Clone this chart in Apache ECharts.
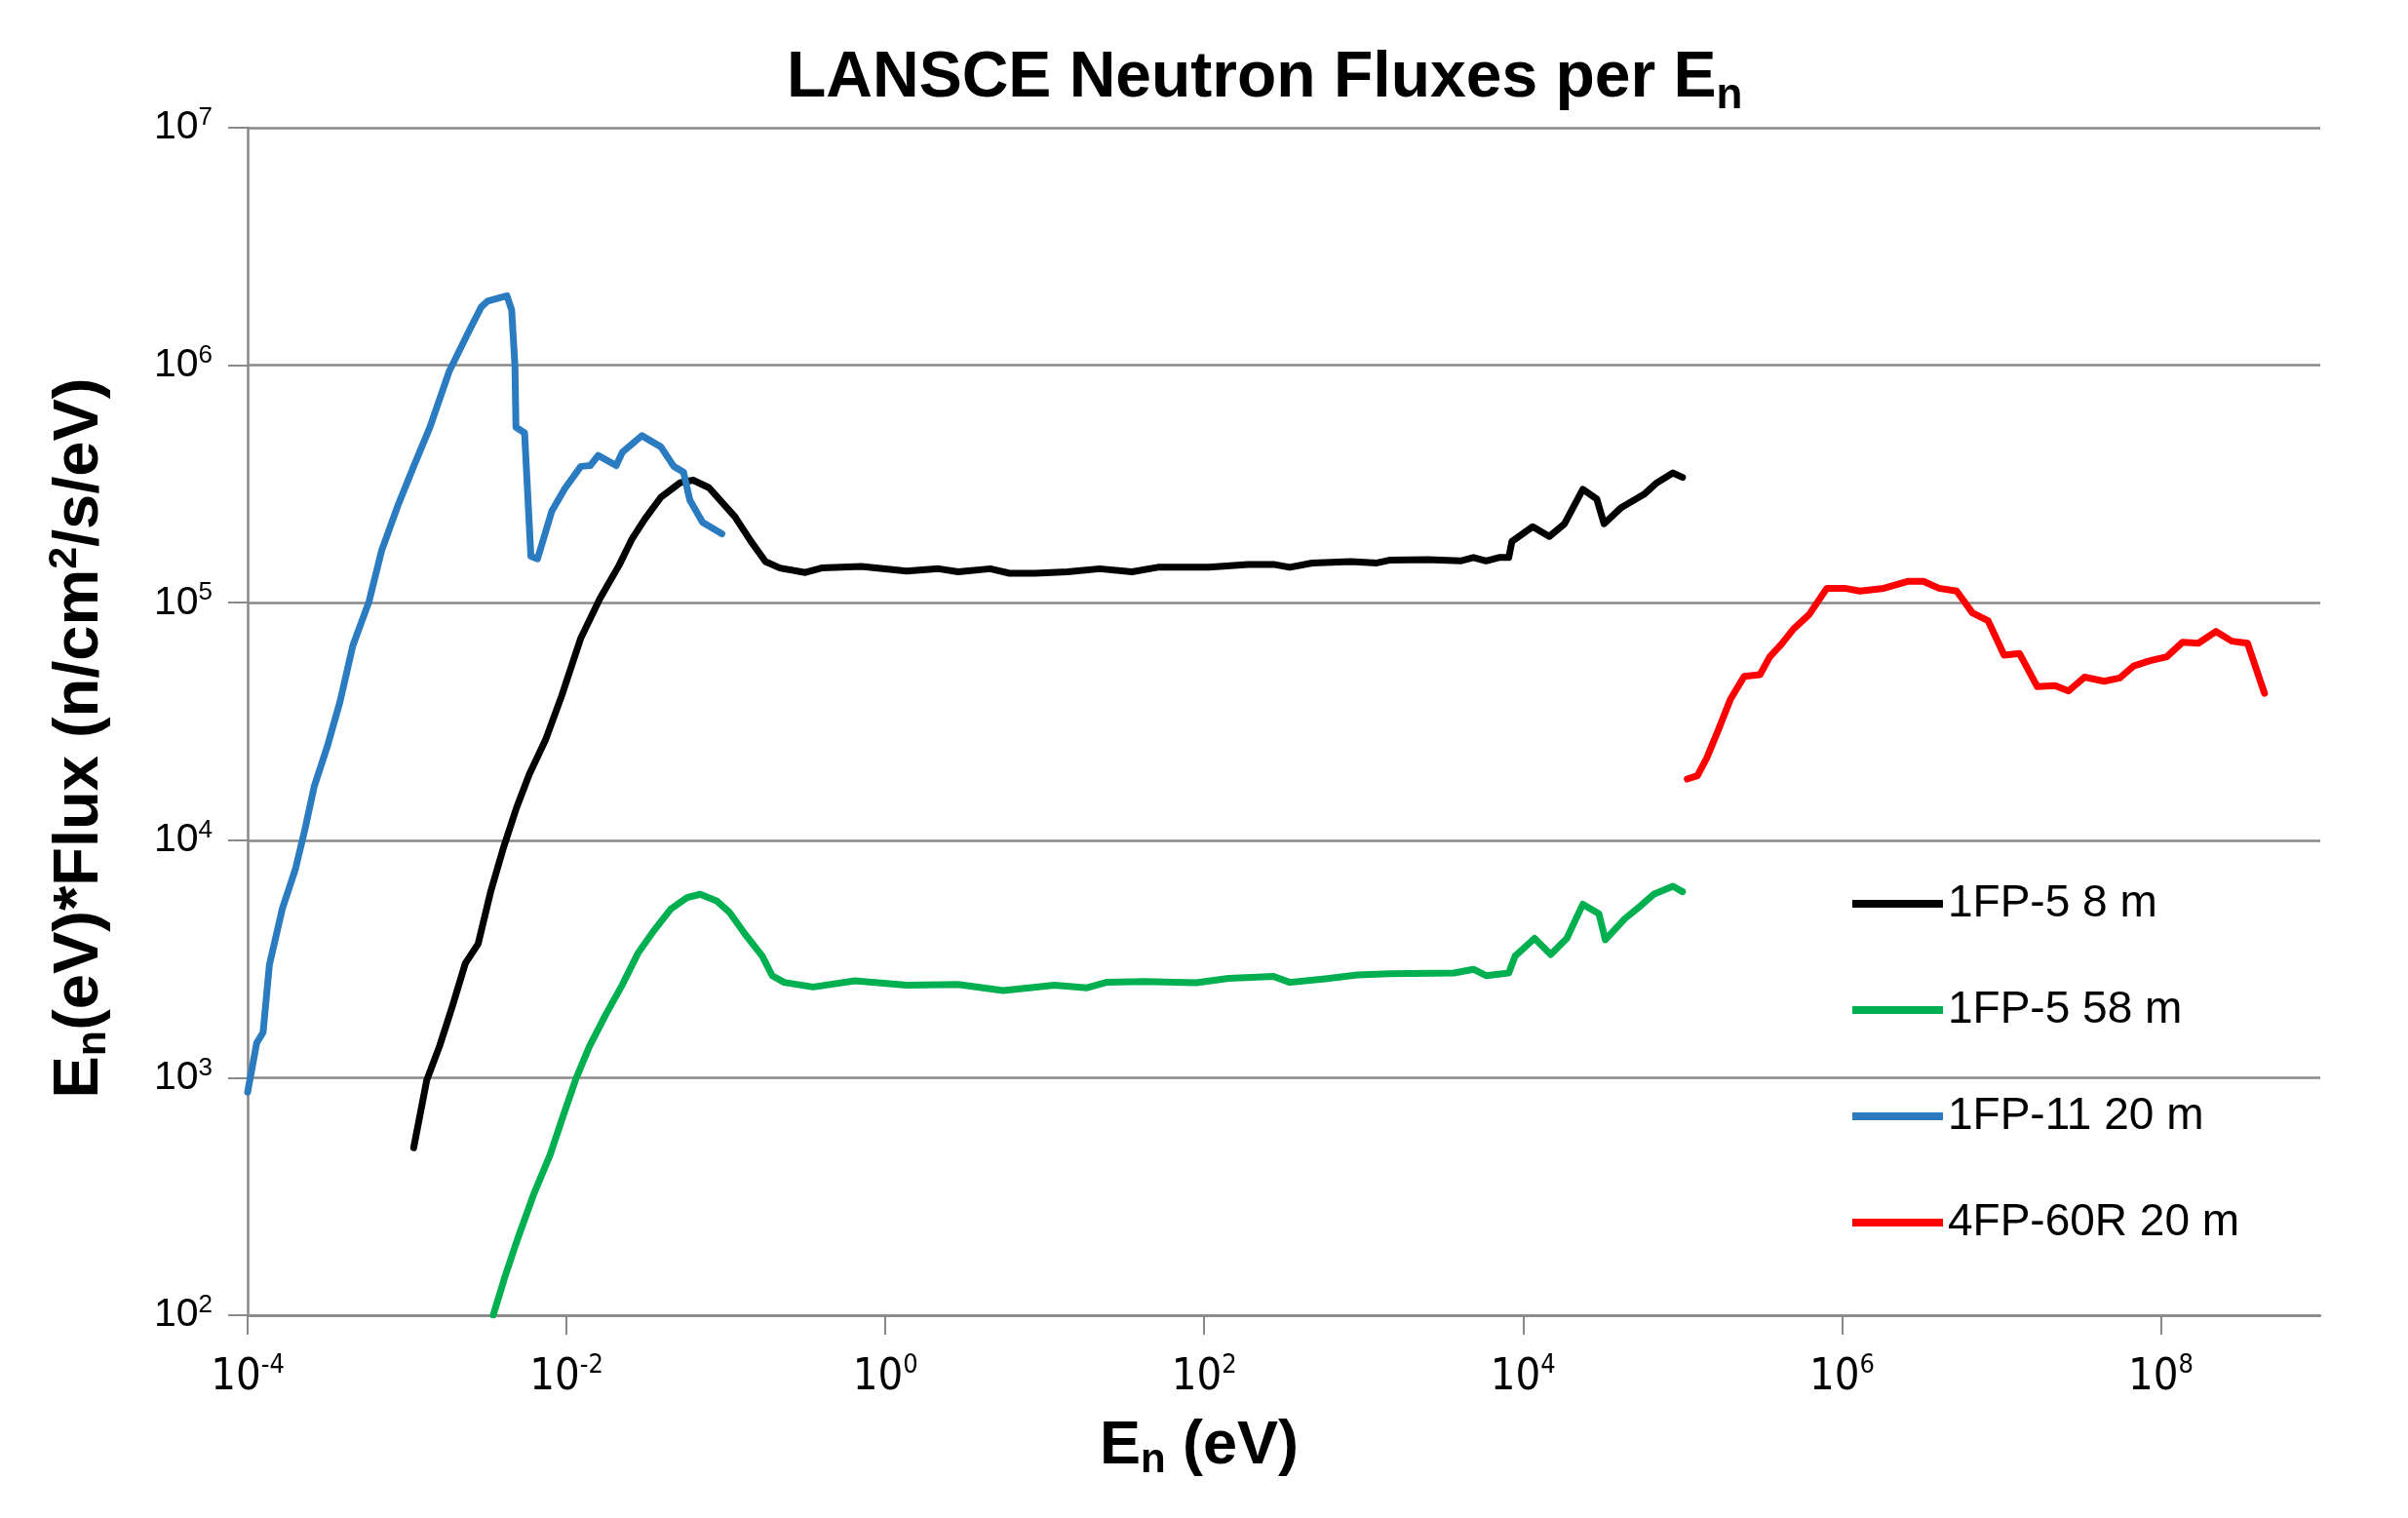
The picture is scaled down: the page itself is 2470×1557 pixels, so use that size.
<!DOCTYPE html>
<html>
<head>
<meta charset="utf-8">
<script src="https://cdn.jsdelivr.net/npm/echarts@6/dist/echarts.min.js"></script>
<style>
html,body{margin:0;padding:0;background:#ffffff;}
#chart{width:2470px;height:1557px;}
</style>
</head>
<body>
<div id="chart"></div>
<script>
// ---- data ----
const seriesNames = ['1FP-5 8 m', '1FP-5 58 m', '1FP-11 20 m', '4FP-60R 20 m'];
const seriesColors = ['#000000', '#00b050', '#2a7bbf', '#ff0000'];

const xTickValues = [1e-4, 1e-2, 1, 1e2, 1e4, 1e6, 1e8];
const yTickValues = [1e2, 1e3, 1e4, 1e5, 1e6, 1e7];

const black_E = [1.10e-3, 1.33e-3, 1.60e-3, 1.92e-3, 2.32e-3, 2.79e-3, 3.36e-3, 4.04e-3, 4.86e-3, 5.85e-3,
  7.38e-3, 9.31e-3, 1.23e-2, 1.62e-2, 2.14e-2, 2.58e-2, 3.10e-2, 3.91e-2, 5.16e-2, 6.22e-2,
  7.83e-2, 0.114, 0.143, 0.177, 0.218, 0.315, 0.398, 0.708, 1.36, 2.16,
  2.86, 4.55, 6.01, 8.71, 13.9, 22.1, 35.2, 51.1, 107, 188,
  272, 344, 476, 832, 1210, 1450, 2540, 4050, 4880, 5860,
  7060, 8130, 8510, 1.15e4, 1.46e4, 1.82e4, 2.37e4, 2.90e4, 3.22e4, 4.14e4,
  5.73e4, 6.90e4, 8.71e4, 1.0e5];
const black_F = [507, 979, 1360, 1990, 3030, 3660, 6140, 9380, 1.37e4, 1.90e4,
  2.64e4, 4.04e4, 7.10e4, 1.04e5, 1.44e5, 1.86e5, 2.25e5, 2.78e5, 3.20e5, 3.28e5,
  3.05e5, 2.30e5, 1.82e5, 1.49e5, 1.40e5, 1.34e5, 1.40e5, 1.42e5, 1.36e5, 1.39e5,
  1.35e5, 1.39e5, 1.33e5, 1.33e5, 1.35e5, 1.39e5, 1.35e5, 1.41e5, 1.41e5, 1.45e5,
  1.45e5, 1.41e5, 1.47e5, 1.49e5, 1.47e5, 1.51e5, 1.52e5, 1.50e5, 1.55e5, 1.50e5,
  1.55e5, 1.55e5, 1.81e5, 2.09e5, 1.90e5, 2.15e5, 3.00e5, 2.73e5, 2.15e5, 2.52e5,
  2.86e5, 3.20e5, 3.52e5, 3.37e5];

const green_E = [3.47e-3, 4.08e-3, 4.93e-3, 6.25e-3, 7.91e-3, 9.55e-3, 1.15e-2, 1.39e-2, 1.76e-2, 2.23e-2,
  2.82e-2, 3.56e-2, 4.51e-2, 5.71e-2, 6.90e-2, 8.73e-2, 0.105, 0.133, 0.169, 0.195,
  0.232, 0.352, 0.644, 1.36, 2.86, 5.48, 11.5, 18.4, 24.3, 42.4,
  89.1, 142, 272, 344, 573, 912, 1450, 3680, 4880, 5860,
  8130, 8910, 1.18e4, 1.49e4, 1.88e4, 2.37e4, 2.99e4, 3.28e4, 4.34e4, 5.47e4,
  6.59e4, 8.71e4, 1.0e5];
const green_F = [100, 143, 209, 325, 475, 693, 995, 1350, 1840, 2450,
  3360, 4190, 5130, 5730, 5920, 5560, 4980, 3990, 3250, 2690,
  2520, 2410, 2560, 2450, 2470, 2330, 2450, 2390, 2520, 2540,
  2510, 2620, 2670, 2520, 2610, 2710, 2740, 2760, 2860, 2690,
  2760, 3250, 3860, 3300, 3860, 5380, 4900, 3810, 4670, 5300,
  5920, 6400, 6070];

const blue_E = [1.0e-4, 1.14e-4, 1.25e-4, 1.37e-4, 1.65e-4, 1.99e-4, 2.28e-4, 2.62e-4, 3.16e-4, 3.80e-4,
  4.57e-4, 5.77e-4, 6.93e-4, 8.75e-4, 1.10e-3, 1.39e-3, 1.84e-3, 2.43e-3, 2.92e-3, 3.20e-3,
  3.68e-3, 4.23e-3, 4.53e-3, 4.75e-3, 4.82e-3, 5.46e-3, 5.98e-3, 6.58e-3, 8.09e-3, 9.75e-3,
  1.23e-2, 1.41e-2, 1.58e-2, 2.05e-2, 2.24e-2, 2.97e-2, 3.91e-2, 4.71e-2, 5.42e-2, 5.94e-2,
  7.14e-2, 9.44e-2];
const blue_F = [870, 1400, 1550, 2990, 5140, 7520, 1.10e4, 1.69e4, 2.48e4, 3.84e4,
  6.59e4, 1.01e5, 1.66e5, 2.56e5, 3.75e5, 5.47e5, 9.44e5, 1.38e6, 1.76e6, 1.86e6,
  1.91e6, 1.96e6, 1.71e6, 9.95e5, 5.48e5, 5.19e5, 1.57e5, 1.53e5, 2.43e5, 3.02e5,
  3.75e5, 3.78e5, 4.17e5, 3.78e5, 4.30e5, 5.05e5, 4.53e5, 3.75e5, 3.55e5, 2.70e5,
  2.18e5, 1.95e5];

const red_E = [1.07e5, 1.24e5, 1.42e5, 1.69e5, 2.00e5, 2.44e5, 3.06e5, 3.53e5, 4.19e5, 4.97e5,
  6.22e5, 8.04e5, 1.04e6, 1.30e6, 1.83e6, 2.58e6, 3.24e6, 4.06e6, 5.24e6, 6.58e6,
  8.24e6, 1.04e7, 1.30e7, 1.68e7, 2.17e7, 2.64e7, 3.32e7, 4.41e7, 5.53e7, 6.75e7,
  8.47e7, 1.09e8, 1.37e8, 1.72e8, 2.22e8, 2.79e8, 3.50e8, 4.47e8];
const red_F = [1.81e4, 1.87e4, 2.22e4, 2.95e4, 3.93e4, 4.90e4, 4.98e4, 5.92e4, 6.71e4, 7.75e4,
  8.91e4, 1.15e5, 1.15e5, 1.12e5, 1.15e5, 1.23e5, 1.23e5, 1.15e5, 1.12e5, 9.06e4,
  8.41e4, 6.01e4, 6.11e4, 4.43e4, 4.48e4, 4.25e4, 4.86e4, 4.67e4, 4.82e4, 5.41e4,
  5.69e4, 5.92e4, 6.82e4, 6.75e4, 7.57e4, 6.89e4, 6.75e4, 4.15e4];

// ---- build chart ----
const seriesE = [black_E, green_E, blue_E, red_E];
const seriesF = [black_F, green_F, blue_F, red_F];

const narrowFont = "'Liberation Sans Narrow', 'DejaVu Sans Condensed', 'Liberation Sans', sans-serif";
const plainFont = "'Liberation Sans', Arial, sans-serif";
const boldFont = "'Liberation Sans', Arial, sans-serif";

function powLabel(v) {
  const e = Math.round(Math.log10(v));
  return '{b|10}{s|' + String(e) + '}';
}
const xTickRich = {
  b: { fontFamily: narrowFont, fontSize: 45, color: '#000', lineHeight: 52 },
  s: { fontFamily: narrowFont, fontSize: 27, color: '#000', lineHeight: 27, verticalAlign: 'top' }
};
const yTickRich = {
  b: { fontFamily: plainFont, fontSize: 41, color: '#000', lineHeight: 46 },
  s: { fontFamily: plainFont, fontSize: 26, color: '#000', lineHeight: 26, verticalAlign: 'top' }
};

const chart = echarts.init(document.getElementById('chart'), null, { renderer: 'canvas' });

const option = {
  backgroundColor: '#ffffff',
  animation: false,
  title: {
    text: '{b|LANSCE Neutron Fluxes per E}{sub|n}',
    left: 802,
    top: 36,
    textStyle: {
      rich: {
        b: { fontFamily: boldFont, fontSize: 66, fontWeight: 'bold', color: '#000', lineHeight: 80 },
        sub: { fontFamily: boldFont, fontSize: 44, fontWeight: 'bold', color: '#000', lineHeight: 44, verticalAlign: 'bottom' }
      }
    }
  },
  legend: {
    orient: 'vertical',
    left: 1895,
    top: 899,
    itemWidth: 93,
    itemHeight: 8,
    itemGap: 63,
    icon: 'rect',
    data: seriesNames,
    textStyle: { fontFamily: plainFont, fontSize: 46, color: '#000', lineHeight: 46 }
  },
  grid: { left: 254, right: 90, top: 131, bottom: 208, containLabel: false },
  xAxis: {
    type: 'log',
    logBase: 100,
    min: 1e-4,
    max: 1e9,
    splitNumber: 6,
    name: '{b|E}{sub|n}{b| (eV)}',
    nameLocation: 'middle',
    nameGap: 100,
    nameTextStyle: {
      padding: [0, 174, 0, 0],
      rich: {
        b: { fontFamily: boldFont, fontSize: 63, fontWeight: 'bold', color: '#000', lineHeight: 70 },
        sub: { fontFamily: boldFont, fontSize: 42, fontWeight: 'bold', color: '#000', lineHeight: 42, verticalAlign: 'bottom' }
      }
    },
    axisLine: { show: true, lineStyle: { color: '#898989', width: 2.5 } },
    axisTick: { show: true, inside: false, length: 20, lineStyle: { color: '#898989', width: 2 }, customValues: xTickValues },
    axisLabel: { margin: 38, customValues: xTickValues, formatter: powLabel, rich: xTickRich },
    splitLine: { show: false },
    minorTick: { show: false },
    minorSplitLine: { show: false }
  },
  yAxis: {
    type: 'log',
    logBase: 10,
    min: 1e2,
    max: 1e7,
    splitNumber: 5,
    name: '{b|E}{sub|n}{b|(eV)*Flux (n/cm}{sup|2}{b|/s/eV)}',
    nameLocation: 'middle',
    nameRotate: 90,
    nameGap: 136,
    nameTextStyle: {
      padding: [0, 34, 0, 0],
      rich: {
        b: { fontFamily: boldFont, fontSize: 65, fontWeight: 'bold', color: '#000', lineHeight: 72 },
        sub: { fontFamily: boldFont, fontSize: 43, fontWeight: 'bold', color: '#000', lineHeight: 43, verticalAlign: 'bottom' },
        sup: { fontFamily: boldFont, fontSize: 41, fontWeight: 'bold', color: '#000', lineHeight: 41, verticalAlign: 'top' }
      }
    },
    axisLine: { show: true, lineStyle: { color: '#898989', width: 2.5 } },
    axisTick: { show: true, inside: false, length: 20, lineStyle: { color: '#898989', width: 2 }, customValues: yTickValues },
    axisLabel: { margin: 36, customValues: yTickValues, formatter: powLabel, rich: yTickRich },
    splitLine: { show: true, lineStyle: { color: '#898989', width: 2.5 } },
    minorTick: { show: false },
    minorSplitLine: { show: false }
  },
  series: seriesNames.map(function (name, i) {
    return {
      name: name,
      type: 'line',
      showSymbol: false,
      symbol: 'none',
      smooth: false,
      clip: true,
      color: seriesColors[i],
      lineStyle: { color: seriesColors[i], width: 7, join: 'round', cap: 'round' },
      data: seriesE[i].map(function (e, k) { return [e, seriesF[i][k]]; })
    };
  })
};

chart.setOption(option);
</script>
</body>
</html>
